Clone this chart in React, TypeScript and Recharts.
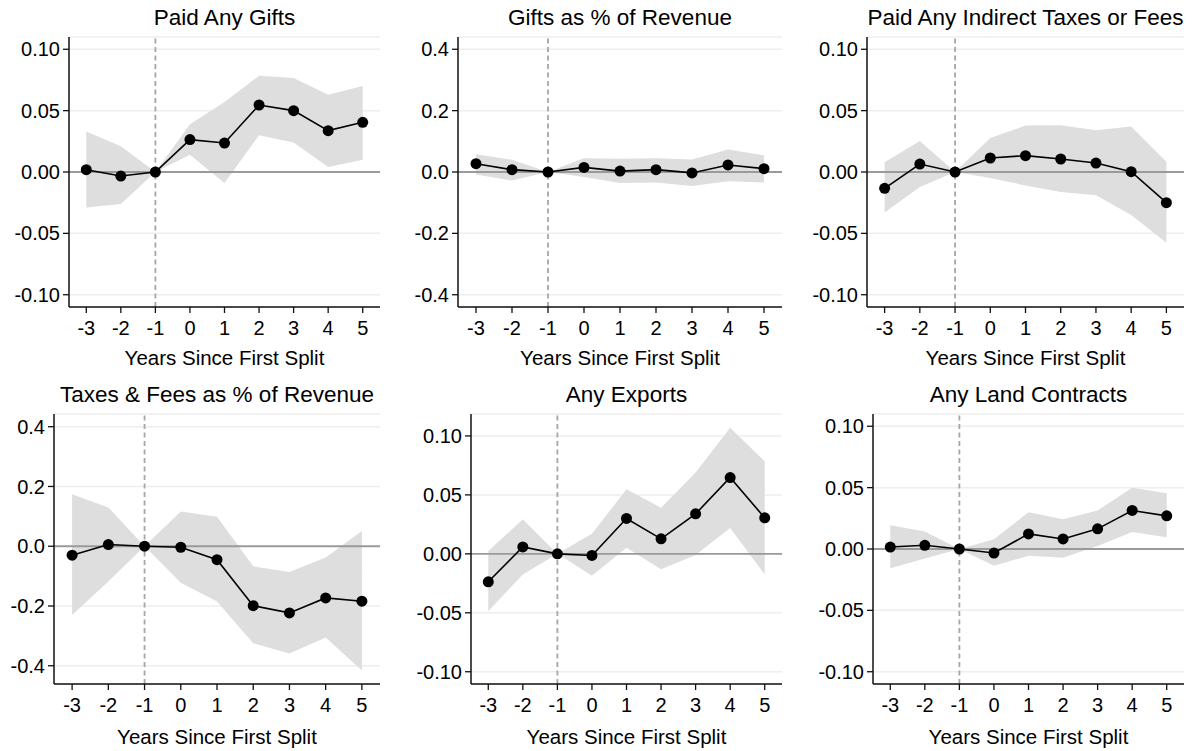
import {
  ComposedChart,
  Area,
  Line,
  XAxis,
  YAxis,
  CartesianGrid,
  ReferenceLine,
} from 'recharts';

// event-time axis
const years = [-3, -2, -1, 0, 1, 2, 3, 4, 5];

const giftsEst = [0.0019, -0.0033, 0, 0.0264, 0.0236, 0.0546, 0.05, 0.0337, 0.0405];
const giftsLo = [-0.029, -0.026, 0, 0.014, -0.009, 0.03, 0.024, 0.004, 0.01];
const giftsHi = [0.033, 0.021, 0, 0.039, 0.057, 0.0785, 0.0766, 0.063, 0.07];

const giftsPctEst = [0.027, 0.0076, 0, 0.015, 0.003, 0.0076, -0.003, 0.023, 0.011];
const giftsPctLo = [-0.008, -0.028, 0, -0.016, -0.036, -0.034, -0.046, -0.03, -0.034];
const giftsPctHi = [0.058, 0.04, 0, 0.045, 0.043, 0.045, 0.041, 0.073, 0.055];

const taxesEst = [-0.0133, 0.0065, 0, 0.0114, 0.0133, 0.0106, 0.0073, 0.0003, -0.025];
const taxesLo = [-0.033, -0.0122, 0, -0.0049, -0.0109, -0.0163, -0.019, -0.035, -0.0576];
const taxesHi = [0.0079, 0.0253, 0, 0.0277, 0.0378, 0.038, 0.034, 0.037, 0.0084];

const taxesPctEst = [-0.03, 0.0056, 0, -0.0034, -0.045, -0.199, -0.223, -0.173, -0.184];
const taxesPctLo = [-0.23, -0.118, 0, -0.122, -0.185, -0.325, -0.359, -0.305, -0.416];
const taxesPctHi = [0.174, 0.13, 0, 0.116, 0.099, -0.067, -0.086, -0.038, 0.051];

const exportsEst = [-0.0237, 0.0059, 0, -0.0014, 0.03, 0.0127, 0.0339, 0.0647, 0.0305];
const exportsLo = [-0.0486, -0.0175, 0, -0.0186, 0.0051, -0.013, -0.001, 0.022, -0.0175];
const exportsHi = [0.0023, 0.0294, 0, 0.017, 0.0548, 0.039, 0.0689, 0.107, 0.0785];

const landEst = [0.0016, 0.003, 0, -0.0033, 0.0123, 0.0082, 0.0164, 0.0314, 0.027];
const landLo = [-0.0156, -0.0077, 0, -0.0137, -0.0055, -0.0071, 0.0025, 0.0139, 0.0096];
const landHi = [0.0194, 0.0142, 0, 0.0079, 0.03, 0.0243, 0.0314, 0.05, 0.0454];

const smallTicks = [-0.1, -0.05, 0, 0.05, 0.1];
const bigTicks = [-0.4, -0.2, 0, 0.2, 0.4];

const FONT = '"Liberation Sans", Arial, sans-serif';
const BAND = '#dedede';
const REF = '#9a9a9a';

const panels = [
  { title: 'Paid Any Gifts', est: giftsEst, lo: giftsLo, hi: giftsHi, ticks: smallTicks, dec: 2, domain: [-0.11, 0.11], left: 0, top: 0, width: 398, yw: 69, mt: 37, xh: 68, lblOff: 10 },
  { title: 'Gifts as % of Revenue', est: giftsPctEst, lo: giftsPctLo, hi: giftsPctHi, ticks: bigTicks, dec: 1, domain: [-0.44, 0.44], left: 398, top: 0, width: 398, yw: 60, mt: 37, xh: 68, lblOff: 10 },
  { title: 'Paid Any Indirect Taxes or Fees', est: taxesEst, lo: taxesLo, hi: taxesHi, ticks: smallTicks, dec: 2, domain: [-0.11, 0.11], left: 796, top: 0, width: 400, yw: 71, mt: 37, xh: 68, lblOff: 10 },
  { title: 'Taxes & Fees as % of Revenue', est: taxesPctEst, lo: taxesPctLo, hi: taxesPctHi, ticks: bigTicks, dec: 1, domain: [-0.461, 0.4425], left: 0, top: 375, width: 398, yw: 54, mt: 39, xh: 67, lblOff: 7 },
  { title: 'Any Exports', est: exportsEst, lo: exportsLo, hi: exportsHi, ticks: smallTicks, dec: 2, domain: [-0.1104, 0.1186], left: 398, top: 375, width: 398, yw: 73, mt: 39, xh: 67, lblOff: 7 },
  { title: 'Any Land Contracts', est: landEst, lo: landLo, hi: landHi, ticks: smallTicks, dec: 2, domain: [-0.11, 0.11], left: 796, top: 375, width: 400, yw: 77, mt: 39, xh: 67, lblOff: 7 },
];

const RIGHT_EDGE = [380, 782, 1184];

function Panel({ p, idx }: { p: (typeof panels)[number]; idx: number }) {
  const data = years.map((x, i) => ({ x, est: p.est[i], band: [p.lo[i], p.hi[i]] }));
  const plotRight = RIGHT_EDGE[idx % 3];
  const mr = p.left + p.width - plotRight;
  const height = p.mt + 270 + p.xh;
  const plotCenter = (p.left + p.yw + plotRight) / 2;
  return (
    <>
      <div
        style={{
          position: 'absolute',
          left: plotCenter - 200,
          width: 400,
          top: p.top + (idx < 3 ? 6 : 8),
          height: 24,
          lineHeight: '24px',
          textAlign: 'center',
          fontSize: 22.5,
          whiteSpace: 'nowrap',
          color: '#000',
        }}
      >
        {p.title}
      </div>
      <div style={{ position: 'absolute', left: p.left, top: p.top }}>
        <ComposedChart width={p.width} height={height} data={data} margin={{ top: p.mt, right: mr, left: 0, bottom: 0 }}>
          <CartesianGrid vertical={false} stroke="#eeeeee" strokeWidth={1.5} />
          <XAxis
            dataKey="x"
            type="number"
            domain={[-3.5, 5.5]}
            ticks={years}
            allowDataOverflow
            height={p.xh}
            tickSize={6}
            tickMargin={8}
            tick={{ fill: '#000', fontSize: 20 }}
            axisLine={{ stroke: '#111', strokeWidth: 1.5 }}
            tickLine={{ stroke: '#111', strokeWidth: 1.3 }}
            label={{ value: 'Years Since First Split', position: 'insideBottom', offset: p.lblOff, fill: '#000', fontSize: 20.5 }}
          />
          <YAxis
            type="number"
            domain={p.domain}
            ticks={p.ticks}
            allowDataOverflow
            width={p.yw}
            tickSize={6}
            tickMargin={3}
            tickFormatter={(v: number) => v.toFixed(p.dec)}
            tick={{ fill: '#000', fontSize: 20 }}
            axisLine={{ stroke: '#111', strokeWidth: 1.5 }}
            tickLine={{ stroke: '#111', strokeWidth: 1.3 }}
          />
          <Area dataKey="band" type="linear" stroke="none" fill={BAND} fillOpacity={1} isAnimationActive={false} />
          <ReferenceLine y={0} stroke={REF} strokeWidth={1.8} />
          <ReferenceLine x={-1} stroke="#a6a6a6" strokeWidth={1.8} strokeDasharray="5 3.5" />
          <Line
            dataKey="est"
            type="linear"
            stroke="#000"
            strokeWidth={1.6}
            dot={{ r: 5.5, fill: '#000', stroke: '#000', strokeWidth: 0 }}
            activeDot={false}
            isAnimationActive={false}
          />
        </ComposedChart>
      </div>
    </>
  );
}

export default function App() {
  return (
    <div style={{ position: 'absolute', left: 0, top: 0, width: 1196, height: 751, background: '#fff', fontFamily: FONT }}>
      {panels.map((p, i) => (
        <Panel key={p.title} p={p} idx={i} />
      ))}
    </div>
  );
}
